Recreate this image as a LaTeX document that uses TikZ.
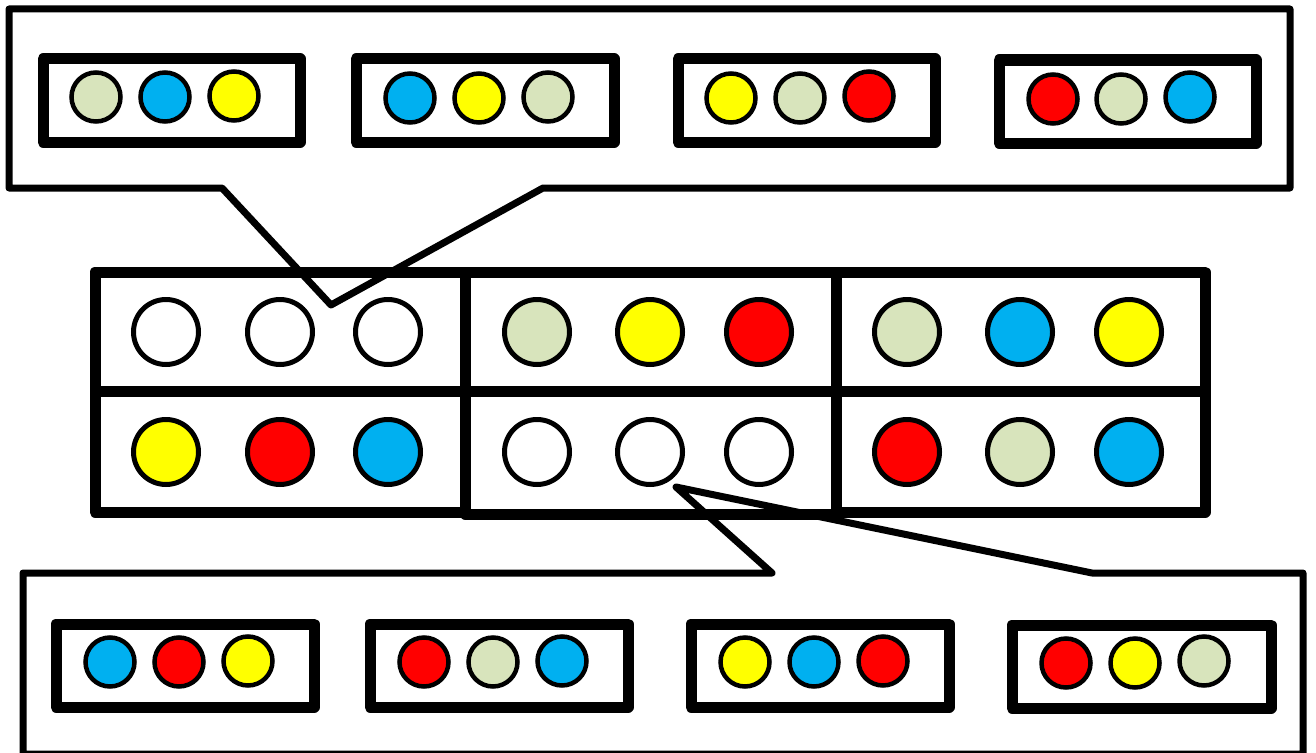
\documentclass[tikz,border=0pt]{standalone}
\usetikzlibrary{shapes.geometric}
\definecolor{cgreen}{HTML}{D8E4BC}
\definecolor{cblue}{HTML}{00B0F0}
\definecolor{cyellow}{HTML}{FFFF00}
\definecolor{cred}{HTML}{FF0000}
\tikzset{
  smallc/.style={circle, draw=black, line width=4.5pt, minimum size=49pt, inner sep=0pt, outer sep=0pt},
  bigc/.style={circle, draw=black, line width=5pt, minimum size=65pt, inner sep=0pt, outer sep=0pt},
  thickbox/.style={draw=black, line width=11pt, line join=round},
  callout/.style={draw=black, line width=7pt, line join=round},
}
\begin{document}
\begin{tikzpicture}[x=1pt, y=-1pt]
\useasboundingbox (0,0) rectangle (1316,752);
\clip (0,0) rectangle (1316,752);
\fill[white] (0,0) rectangle (1316,752);

% ---- middle grid ----
\draw[thickbox] (95,272) rectangle (465,391);
\draw[thickbox] (465,272) rectangle (836,391);
\draw[thickbox] (836,272) rectangle (1205,391);
\draw[thickbox] (95,391) rectangle (465,512);
\draw[thickbox] (465,391) rectangle (836,514);
\draw[thickbox] (836,391) rectangle (1205,512);

% row 1
\node[bigc, fill=white]   (m11) at (166,332) {};
\node[bigc, fill=white]   (m12) at (280,332) {};
\node[bigc, fill=white]   (m13) at (388,332) {};
\node[bigc, fill=cgreen]  (m14) at (537,332) {};
\node[bigc, fill=cyellow] (m15) at (650,332) {};
\node[bigc, fill=cred]    (m16) at (759,332) {};
\node[bigc, fill=cgreen]  (m17) at (907,332) {};
\node[bigc, fill=cblue]   (m18) at (1020,332) {};
\node[bigc, fill=cyellow] (m19) at (1129,332) {};
% row 2
\node[bigc, fill=cyellow] (m21) at (166,452) {};
\node[bigc, fill=cred]    (m22) at (280,452) {};
\node[bigc, fill=cblue]   (m23) at (388,452) {};
\node[bigc, fill=white]   (m24) at (537,452) {};
\node[bigc, fill=white]   (m25) at (650,452) {};
\node[bigc, fill=white]   (m26) at (759,452) {};
\node[bigc, fill=cred]    (m27) at (907,452) {};
\node[bigc, fill=cgreen]  (m28) at (1020,452) {};
\node[bigc, fill=cblue]   (m29) at (1129,452) {};

% ---- top callout ----
\coordinate (ttip) at (331,305);
\draw[callout] (9,9) -- (1290,9) -- (1290,188) -- (543,188) -- (ttip) -- (222,188) -- (9,188) -- cycle;

\draw[thickbox] (43,59) rectangle (300,142);
\draw[thickbox] (356,59) rectangle (614,142);
\draw[thickbox] (678,59) rectangle (935,142);
\draw[thickbox] (999,60) rectangle (1256,143);

\node[smallc, fill=cgreen]  (t11) at (96,97) {};
\node[smallc, fill=cblue]   (t12) at (165,97) {};
\node[smallc, fill=cyellow] (t13) at (234,96) {};
\node[smallc, fill=cblue]   (t21) at (410,98) {};
\node[smallc, fill=cyellow] (t22) at (479,98) {};
\node[smallc, fill=cgreen]  (t23) at (548,97) {};
\node[smallc, fill=cyellow] (t31) at (731,98) {};
\node[smallc, fill=cgreen]  (t32) at (800,98) {};
\node[smallc, fill=cred]    (t33) at (869,96) {};
\node[smallc, fill=cred]    (t41) at (1053,99) {};
\node[smallc, fill=cgreen]  (t42) at (1121,99) {};
\node[smallc, fill=cblue]   (t43) at (1190,97) {};

% ---- bottom callout ----
\coordinate (btip) at (676,487);
\draw[callout] (23,573) -- (772,573) -- (btip) -- (1092,573) -- (1303,573) -- (1303,754) -- (23,754) -- cycle;

\draw[thickbox] (56,624) rectangle (314,707);
\draw[thickbox] (370,624) rectangle (628,707);
\draw[thickbox] (691,624) rectangle (949,707);
\draw[thickbox] (1012,625) rectangle (1271,708);

\node[smallc, fill=cblue]   (b11) at (110,662) {};
\node[smallc, fill=cred]    (b12) at (179,662) {};
\node[smallc, fill=cyellow] (b13) at (248,661) {};
\node[smallc, fill=cred]    (b21) at (424,662) {};
\node[smallc, fill=cgreen]  (b22) at (493,662) {};
\node[smallc, fill=cblue]   (b23) at (562,661) {};
\node[smallc, fill=cyellow] (b31) at (745,662) {};
\node[smallc, fill=cblue]   (b32) at (814,662) {};
\node[smallc, fill=cred]    (b33) at (883,661) {};
\node[smallc, fill=cred]    (b41) at (1066,663) {};
\node[smallc, fill=cyellow] (b42) at (1135,663) {};
\node[smallc, fill=cgreen]  (b43) at (1204,661) {};
\end{tikzpicture}
\end{document}
